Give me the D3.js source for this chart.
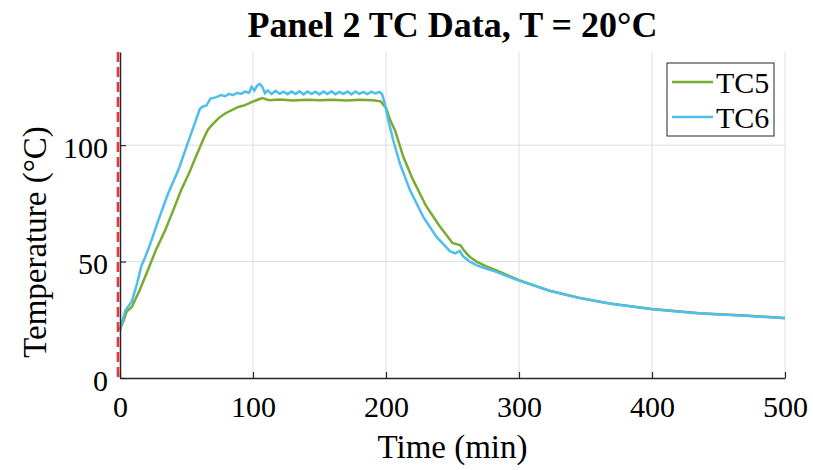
<!DOCTYPE html>
<html>
<head>
<meta charset="utf-8">
<script src="https://cdn.jsdelivr.net/npm/d3@7"></script>
<style>
  body { margin: 0; background: #fff; }
  text { font-family: "Liberation Serif", "Times New Roman", serif; fill: #000; }
</style>
</head>
<body>
<div id="chart"></div>
<script>
// time (min) and temperatures (°C)
var tc5Time = [0, 3, 5, 9, 15, 21, 27, 34, 40, 46, 52, 56, 60, 63, 66, 69, 74, 79, 84, 89, 94, 99,
               104, 107, 112, 120, 130, 140, 150, 160, 170, 180, 190, 196, 200, 203, 207, 213, 220,
               230, 240, 250, 253, 256, 259, 263, 268, 275, 283, 290, 300, 323, 345, 368, 400, 436, 470, 500];
var tc5Temp = [21, 25, 28.5, 30.6, 38, 46.4, 55, 63.5, 72, 80.7, 88, 93.6, 99, 103, 106.5, 108.6, 111.5, 113.6,
               115, 116.4, 117.2, 118.5, 119.6, 120.2, 119.3, 119.6, 119.2, 119.5, 119.3, 119.5, 119.2, 119.5,
               119.3, 118.8, 116, 111, 106, 95, 85.5, 74, 65.5, 58, 57.5, 57, 54.5, 52, 50, 48, 46.2, 44.5,
               42, 37.5, 34.5, 32, 29.6, 27.8, 26.8, 25.8];

var tc6Time = [0, 2, 4, 6, 9, 11, 13, 16, 19, 23, 29, 36, 44, 51, 56, 60, 62, 65, 68, 72, 76, 79, 82, 85,
               88, 91, 94, 97, 99, 101, 103, 105, 107, 109, 111, 114, 117, 120, 123, 126, 129, 132, 135,
               138, 141, 144, 147, 150, 153, 156, 159, 162, 165, 168, 171, 174, 177, 180, 183, 186, 189,
               192, 195, 197, 199, 202, 205.5, 210.5, 218, 228, 238, 244, 248, 252, 255.5, 258, 263, 268,
               275, 283, 290, 300, 323, 345, 368, 400, 436, 470, 500];
var tc6Temp = [20.5, 25, 29, 30.6, 33, 37, 41, 48, 52, 58, 68, 79, 89.5, 101, 109, 115.5, 116.5, 117, 120,
               120.5, 121.5, 121, 122, 121.5, 122.5, 122, 123, 122.5, 125, 123.5, 125.5, 126.3, 125, 122.3,
               123.5, 122, 123.3, 122.1, 123, 121.9, 123, 122, 123.1, 121.8, 123, 122, 122.9, 121.8, 123,
               122, 123.1, 121.9, 122.9, 122, 123, 121.8, 123, 122, 122.9, 121.9, 123, 122.2, 122.9, 122,
               118, 110, 102, 92, 80.7, 69.2, 60.6, 57, 54.5, 53.5, 54.6, 52.2, 50, 48.5, 47, 45.6, 44,
               41.8, 37.5, 34.4, 32, 29.5, 27.7, 26.7, 25.7];

var xTicks = [0, 100, 200, 300, 400, 500];
var yTicks = [0, 50, 100];
var seriesNames = ["TC5", "TC6"];
var seriesColors = ["#77ac30", "#4dbeee"];

function init() {
    var w = 813;
    var h = 470;
    var margin = {top: 52, right: 28, bottom: 92, left: 120};
    var pw = w - margin.left - margin.right;
    var ph = h - margin.top - margin.bottom;
    var serif = "'Liberation Serif', 'Times New Roman', serif";

    var xScale = d3.scaleLinear().domain([0, 500]).range([0, pw]);
    var yScale = d3.scaleLinear().domain([0, 140]).range([ph, 0]);

    var svg = d3.select("#chart")
                .append("svg")
                .attr("width", w)
                .attr("height", h);

    var g = svg.append("g")
               .attr("transform", "translate(" + margin.left + "," + margin.top + ")");

    // grid lines
    g.selectAll(".gx")
     .data(xTicks.slice(1))
     .enter()
     .append("line")
     .attr("x1", function(d) { return xScale(d); })
     .attr("x2", function(d) { return xScale(d); })
     .attr("y1", 0)
     .attr("y2", ph)
     .attr("stroke", "#dedede")
     .attr("stroke-width", 1);

    g.selectAll(".gy")
     .data(yTicks.slice(1))
     .enter()
     .append("line")
     .attr("x1", 0)
     .attr("x2", pw)
     .attr("y1", function(d) { return yScale(d); })
     .attr("y2", function(d) { return yScale(d); })
     .attr("stroke", "#dedede")
     .attr("stroke-width", 1);

    // data lines
    var line = d3.line()
                 .x(function(d) { return xScale(d[0]); })
                 .y(function(d) { return yScale(d[1]); });

    var tc5 = d3.zip(tc5Time, tc5Temp);
    var tc6 = d3.zip(tc6Time, tc6Temp);

    g.append("path")
     .datum(tc5)
     .attr("d", line)
     .attr("fill", "none")
     .attr("stroke", seriesColors[0])
     .attr("stroke-width", 2.5);

    g.append("path")
     .datum(tc6)
     .attr("d", line)
     .attr("fill", "none")
     .attr("stroke", seriesColors[1])
     .attr("stroke-width", 2.5);

    // axes
    var xAxis = d3.axisBottom(xScale).tickValues(xTicks).tickSizeInner(-6).tickSizeOuter(0).tickPadding(12);
    var yAxis = d3.axisLeft(yScale).tickValues(yTicks).tickSizeInner(-6).tickSizeOuter(0).tickPadding(12);

    var gx = g.append("g")
              .attr("transform", "translate(0," + ph + ")")
              .call(xAxis);
    var gy = g.append("g").call(yAxis);

    [gx, gy].forEach(function(a) {
        a.select(".domain").attr("stroke", "#262626").attr("stroke-width", 1.5);
        a.selectAll(".tick line").attr("stroke", "#262626").attr("stroke-width", 1.2);
        a.selectAll(".tick text")
         .attr("fill", "#262626")
         .style("font-size", "30px")
         .style("font-family", serif);
    });
    gx.selectAll(".tick text").attr("dy", "0.9em");
    gy.selectAll(".tick text").attr("dy", "0.4em");

    // red dashed marker at t = 0
    g.append("line")
     .attr("x1", xScale(0) - 2)
     .attr("x2", xScale(0) - 2)
     .attr("y1", 0)
     .attr("y2", ph)
     .attr("stroke", "#ec3440")
     .attr("stroke-width", 2.6)
     .attr("stroke-dasharray", "10,5");

    // legend
    var lg = svg.append("g").attr("transform", "translate(667,63)");
    lg.append("rect")
      .attr("width", 107)
      .attr("height", 73)
      .attr("fill", "#fff")
      .attr("stroke", "#262626")
      .attr("stroke-width", 1);

    seriesNames.forEach(function(name, i) {
        var yy = 19 + i * 35;
        lg.append("line")
          .attr("x1", 5).attr("x2", 46)
          .attr("y1", yy).attr("y2", yy)
          .attr("stroke", seriesColors[i])
          .attr("stroke-width", 2.5);
        lg.append("text")
          .attr("x", 49)
          .attr("y", yy + 11)
          .style("font-size", "30px")
          .style("font-family", serif)
          .text(name);
    });

    // title and labels
    svg.append("text")
       .attr("x", margin.left + pw / 2)
       .attr("y", 37)
       .attr("text-anchor", "middle")
       .style("font-size", "36px")
       .style("font-weight", "bold")
       .style("font-family", serif)
       .text("Panel 2 TC Data, T = 20°C");

    svg.append("text")
       .attr("x", margin.left + pw / 2)
       .attr("y", 458)
       .attr("text-anchor", "middle")
       .style("font-size", "33px")
       .style("font-family", serif)
       .attr("fill", "#262626")
       .text("Time (min)");

    svg.append("text")
       .attr("transform", "translate(46,242) rotate(-90)")
       .attr("text-anchor", "middle")
       .style("font-size", "33px")
       .style("font-family", serif)
       .attr("fill", "#262626")
       .text("Temperature (°C)");
}

window.onload = init;
</script>
</body>
</html>
